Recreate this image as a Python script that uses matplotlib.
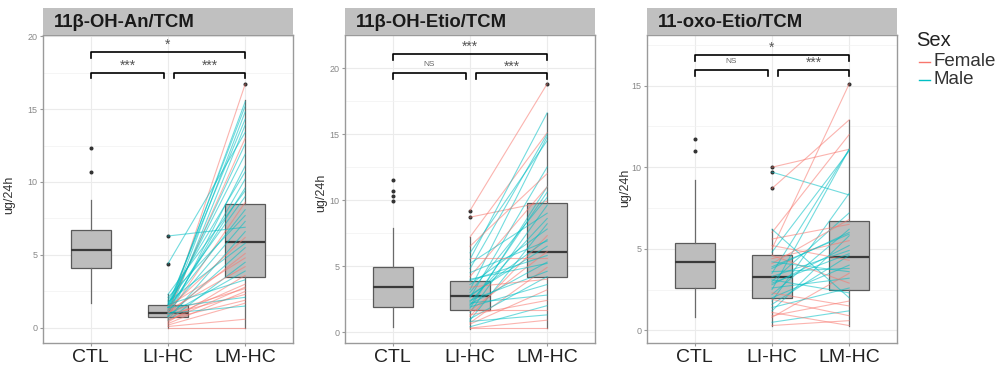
import matplotlib
matplotlib.use('Agg')
import matplotlib.pyplot as plt
from matplotlib.lines import Line2D

plt.rcParams['font.family'] = ['Liberation Sans', 'DejaVu Sans']

# Données
groups = ['CTL', 'LI-HC', 'LM-HC']
titles = ['11β-OH-An/TCM', '11β-OH-Etio/TCM', '11-oxo-Etio/TCM']
sig_labels = [['*', '***', '***'], ['***', 'NS', '***'], ['*', 'NS', '***']]

# boîtes : [whisker bas, q1, médiane, q3, whisker haut] pour CTL, LI-HC, LM-HC
an_box = [[1.7, 4.1, 5.35, 6.7, 8.8], [0.0, 0.75, 1.05, 1.6, 2.3], [0.0, 3.5, 5.9, 8.5, 15.6]]
an_fliers = [[10.7, 12.3], [4.4, 6.3], [16.7]]
etio_box = [[0.4, 1.9, 3.4, 4.9, 7.9], [0.2, 1.7, 2.7, 3.9, 7.2], [0.3, 4.2, 6.1, 9.8, 16.6]]
etio_fliers = [[9.9, 10.3, 10.7, 11.5], [8.7, 9.2], [18.8]]
oxo_box = [[0.8, 2.6, 4.2, 5.35, 9.2], [0.3, 2.0, 3.3, 4.6, 6.2], [0.3, 2.45, 4.5, 6.7, 12.9]]
oxo_fliers = [[11.0, 11.7], [8.7, 9.7, 10.0], [15.1]]

# paires LI-HC -> LM-HC
an_li = [0.9, 1.2, 1.4, 1.0, 1.6, 0.8, 4.4, 1.1, 1.3, 1.5, 0.7, 1.9, 1.0, 1.2, 1.7,
         0.9, 1.4, 2.1, 6.3, 1.1, 0.6, 1.3, 1.8, 0.8, 1.0, 1.5, 0.5, 1.2, 0.9, 0.4,
         1.6, 0.7, 1.1, 0.3, 0.9, 1.4, 0.6, 0.2, 1.0, 0.1, 0.0, 0.5, 2.3]
an_lm = [16.7, 15.5, 15.2, 14.8, 14.3, 13.9, 13.4, 13.0, 12.6, 11.9, 11.1, 10.7, 10.2, 9.6, 9.0,
         8.6, 8.1, 7.7, 6.9, 7.3, 6.6, 6.2, 5.8, 5.5, 5.1, 4.8, 4.5, 4.2, 3.9, 3.6,
         3.3, 3.0, 2.7, 2.5, 2.3, 2.1, 1.9, 1.7, 1.5, 0.6, 0.0, 2.8, 9.4]
an_sex = ['F', 'M', 'M', 'M', 'M', 'M', 'M', 'F', 'M', 'M', 'M', 'M', 'M', 'M', 'M',
          'F', 'M', 'M', 'M', 'M', 'M', 'F', 'M', 'M', 'F', 'F', 'M', 'F', 'M', 'F',
          'M', 'F', 'F', 'F', 'F', 'M', 'F', 'F', 'M', 'F', 'F', 'F', 'M']

etio_li = [9.2, 8.7, 7.2, 6.0, 5.5, 4.8, 3.2, 2.6, 6.5, 1.8, 4.2, 2.0, 3.0, 1.5, 5.2,
           2.3, 0.9, 3.6, 1.2, 4.5, 2.8, 1.6, 5.6, 3.9, 2.1, 0.7, 2.4, 1.0, 3.4, 1.9,
           0.6, 2.2, 1.3, 0.4, 1.7, 0.8, 0.3, 0.3, 2.7, 4.0]
etio_lm = [18.8, 9.9, 15.1, 14.5, 16.6, 15.0, 14.8, 12.5, 12.0, 11.0, 11.0, 10.6, 10.2, 9.6, 9.0,
           8.6, 8.2, 7.8, 7.3, 6.9, 6.5, 6.1, 5.6, 5.8, 5.3, 4.9, 4.6, 4.2, 4.0, 3.6,
           3.2, 2.8, 2.4, 2.0, 1.7, 1.3, 0.9, 0.3, 7.0, 5.2]
etio_sex = ['F', 'F', 'F', 'M', 'M', 'M', 'M', 'M', 'F', 'M', 'F', 'M', 'M', 'M', 'M',
            'M', 'M', 'M', 'F', 'M', 'M', 'F', 'F', 'M', 'M', 'F', 'M', 'M', 'F', 'M',
            'F', 'M', 'F', 'M', 'F', 'M', 'F', 'F', 'M', 'M']

oxo_li = [9.7, 10.0, 8.7, 5.0, 3.5, 2.5, 4.8, 6.0, 1.8, 3.0, 4.1, 5.6, 2.2, 3.8, 1.2,
          4.4, 2.8, 3.3, 1.6, 5.2, 2.0, 3.6, 0.8, 2.6, 4.6, 1.4, 3.1, 6.2, 0.9, 2.3,
          0.5, 1.9, 0.3, 1.1, 3.9, 2.9, 4.2]
oxo_lm = [8.3, 11.1, 12.9, 15.1, 11.1, 11.1, 11.0, 12.0, 8.4, 7.2, 6.8, 6.5, 6.2, 6.0, 5.8,
          5.5, 5.2, 4.9, 4.6, 4.3, 4.0, 3.8, 3.5, 3.2, 2.9, 2.6, 2.3, 2.0, 1.8, 1.5,
          1.2, 0.9, 0.6, 0.3, 5.9, 4.7, 3.6]
oxo_sex = ['M', 'F', 'F', 'F', 'M', 'M', 'M', 'F', 'M', 'M', 'F', 'F', 'M', 'M', 'M',
           'F', 'M', 'M', 'M', 'F', 'M', 'M', 'F', 'M', 'F', 'M', 'M', 'M', 'F', 'F',
           'M', 'F', 'F', 'F', 'M', 'M', 'M']

sex_colors = {'F': '#F8766D', 'M': '#00BFC4'}

W, H = 996, 366
fig = plt.figure(figsize=(W / 100, H / 100), dpi=100)


def axes_px(l, t, r, b):
    return fig.add_axes([l / W, 1 - b / H, (r - l) / W, (b - t) / H])


panels = [
    (titles[0], an_box, an_fliers, an_li, an_lm, an_sex, (-1.03, 20.07), [0, 5, 10, 15, 20], (18.9, 17.5, 0.4), 43),
    (titles[1], etio_box, etio_fliers, etio_li, etio_lm, etio_sex, (-0.83, 22.5), [0, 5, 10, 15, 20], (21.05, 19.6, 0.45), 345),
    (titles[2], oxo_box, oxo_fliers, oxo_li, oxo_lm, oxo_sex, (-0.77, 18.1), [0, 5, 10, 15], (16.9, 15.95, 0.37), 647),
]

for i, (title, box, fl, li, lm, sex, ylim, yt, br, left) in enumerate(panels):
    ax = axes_px(left, 35, left + 250, 343)
    strip = axes_px(left, 8, left + 250, 35)
    strip.set_facecolor('#c0c0c0')
    strip.set_xticks([])
    strip.set_yticks([])
    for s in strip.spines.values():
        s.set_visible(False)
    strip.text(0.045, 0.48, title, transform=strip.transAxes, fontsize=13.3,
               fontweight='bold', color='#1a1a1a', ha='left', va='center')

    stats = [dict(whislo=b[0], q1=b[1], med=b[2], q3=b[3], whishi=b[4], fliers=f)
             for b, f in zip(box, fl)]
    ax.bxp(stats, positions=[0, 1, 2], widths=0.52, patch_artist=True, showcaps=False,
           boxprops=dict(facecolor='#bdbdbd', edgecolor='#5a5a5a', lw=0.9),
           medianprops=dict(color='#3a3a3a', lw=1.6),
           whiskerprops=dict(color='#6a6a6a', lw=0.9),
           flierprops=dict(marker='o', ms=1.9, mfc='#333333', mec='#333333'),
           zorder=2)

    for a, b, s in zip(li, lm, sex):
        ax.plot([1, 2], [a, b], color=sex_colors[s], lw=0.8, alpha=0.55, zorder=3)

    # crochets de significativité
    top, low, drop = br
    for x0, x1, y in [(0, 2, top), (0, 0.95, low), (1.08, 2, low)]:
        ax.plot([x0, x0, x1, x1], [y - drop, y, y, y - drop], color='black', lw=1.2,
                zorder=4, clip_on=False)
    labs = sig_labels[i]
    lab_pos = [(1, top), (0.475, low), (1.54, low)]
    for lab, (x, y) in zip(labs, lab_pos):
        if lab == 'NS':
            ax.annotate(lab, (x, y), xytext=(0, 4), textcoords='offset points',
                        fontsize=6, color='#666666', ha='center', va='bottom')
        else:
            ax.annotate(lab, (x, y), xytext=(0, 0), textcoords='offset points',
                        fontsize=10, color='#555555', ha='center', va='bottom')

    ax.set_xlim(-0.62, 2.62)
    ax.set_ylim(*ylim)
    ax.set_xticks([0, 1, 2])
    ax.set_xticklabels(groups)
    ax.set_yticks(yt)
    ax.set_yticklabels([str(v) for v in yt])
    ax.set_yticks([v + 2.5 for v in yt if v + 2.5 < ylim[1]], minor=True)
    ax.tick_params(axis='x', labelsize=14, labelcolor='#222222', length=2.5, color='#999999', pad=2)
    ax.tick_params(axis='y', labelsize=6.5, labelcolor='#888888', length=2.5, color='#999999', pad=1.5)
    ax.tick_params(axis='y', which='minor', length=0)
    ax.grid(which='major', color='#ebebeb', lw=0.8)
    ax.grid(which='minor', axis='y', color='#f2f2f2', lw=0.5)
    ax.set_axisbelow(True)
    for s in ax.spines.values():
        s.set_color('#9a9a9a')
        s.set_linewidth(1.0)

# étiquettes de l'axe y
for x, y in [(9, 195), (321, 193), (625, 188)]:
    fig.text(x / W, 1 - y / H, 'ug/24h', rotation=90, fontsize=9, color='#333333',
             ha='center', va='center')

# légende
fig.text(916 / W, 1 - 40 / H, 'Sex', fontsize=14.5, color='#222222', ha='left', va='center')
for lab, y, key in [('Female', 62, 'F'), ('Male', 80, 'M')]:
    fig.add_artist(Line2D([919 / W, 930 / W], [1 - y / H, 1 - y / H], color=sex_colors[key], lw=1.0))
    fig.text(933 / W, 1 - y / H, lab, fontsize=13.5, color='#333333', ha='left', va='center')

fig.savefig('out.png', dpi=100)
